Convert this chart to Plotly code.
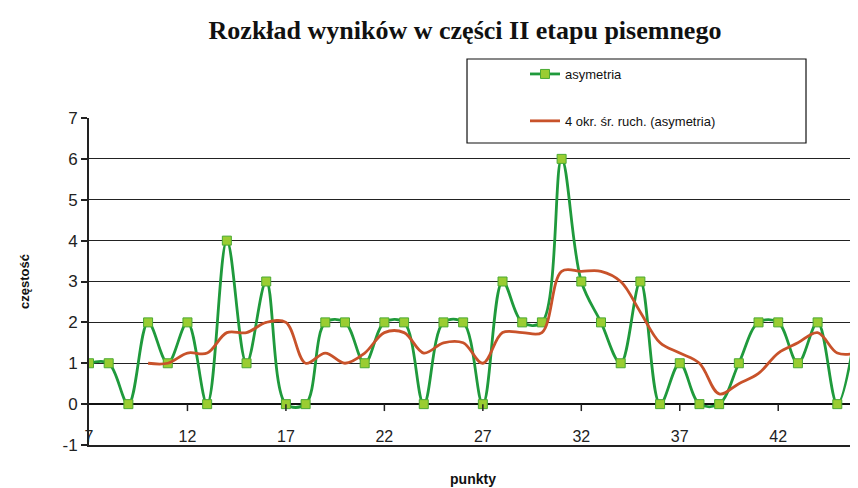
import plotly.graph_objects as go

# --- data ---
punkty = [7, 8, 9, 10, 11, 12, 13, 14, 15, 16, 17, 18, 19, 20, 21, 22, 23, 24, 25, 26,
          27, 28, 29, 30, 31, 32, 33, 34, 35, 36, 37, 38, 39, 40, 41, 42, 43, 44, 45, 46]
asymetria = [1, 1, 0, 2, 1, 2, 0, 4, 1, 3, 0, 0, 2, 2, 1, 2, 2, 0, 2, 2,
             0, 3, 2, 2, 6, 3, 2, 1, 3, 0, 1, 0, 0, 1, 2, 2, 1, 2, 0, 2]
punkty_sr = [10, 11, 12, 13, 14, 15, 16, 17, 18, 19, 20, 21, 22, 23, 24, 25, 26, 27, 28,
             29, 30, 31, 32, 33, 34, 35, 36, 37, 38, 39, 40, 41, 42, 43, 44, 45, 46]
srednia_ruchoma = [1.0, 1.0, 1.25, 1.25, 1.75, 1.75, 2.0, 2.0, 1.0, 1.25, 1.0, 1.25, 1.75,
                   1.75, 1.25, 1.5, 1.5, 1.0, 1.75, 1.75, 1.75, 3.25, 3.25, 3.25, 3.0,
                   2.25, 1.5, 1.25, 1.0, 0.25, 0.5, 0.75, 1.25, 1.5, 1.75, 1.25, 1.25]
x_ticks = [7, 12, 17, 22, 27, 32, 37, 42]
x_tick_labels = ["7", "12", "17", "22", "27", "32", "37", "42"]
y_ticks = [-1, 0, 1, 2, 3, 4, 5, 6, 7]
y_tick_labels = ["-1", "0", "1", "2", "3", "4", "5", "6", "7"]

GREEN = "#1f9a3c"
MARKER = "#9acd32"
RED = "#c8522a"
LABEL_Y = -0.83   # category labels sit just above the bottom line

W, H = 858, 488
fig = go.Figure()
fig.add_trace(go.Scatter(
    x=punkty, y=asymetria, name="asymetria", mode="lines+markers",
    line=dict(color=GREEN, width=2.8, shape="spline", smoothing=1.0),
    marker=dict(symbol="square", size=9, color=MARKER, line=dict(color="#4aaa33", width=1)),
    legendgroup="a",
))
fig.add_trace(go.Scatter(
    x=punkty_sr, y=srednia_ruchoma, name="4 okr. śr. ruch. (asymetria)", mode="lines",
    line=dict(color=RED, width=2.8, shape="spline", smoothing=1.0),
    legendgroup="b",
))
# category-axis labels
fig.add_trace(go.Scatter(
    x=x_ticks, y=[LABEL_Y] * len(x_ticks), text=x_tick_labels, mode="text",
    textposition="middle center", cliponaxis=False, showlegend=False, hoverinfo="skip",
    textfont=dict(family="Liberation Sans", size=16, color="#222"),
))

# legend frame
fig.add_shape(type="rect", xref="paper", yref="paper",
              x0=0.4922, x1=0.9336, y0=0.9235, y1=1.1804,
              line=dict(color="#111", width=1.2), fillcolor="white", layer="above")

# small tick marks on the zero axis
for t in x_ticks[1:]:
    fig.add_shape(type="line", xref="x", yref="y", x0=t, x1=t, y0=0, y1=-0.17,
                  line=dict(color="#222", width=1.5))

fig.update_layout(
    width=W, height=H,
    margin=dict(l=81, r=9, t=110, b=51, autoexpand=False),
    paper_bgcolor="white", plot_bgcolor="white",
    title=dict(text="<b>Rozkład wyników w części II etapu pisemnego</b>",
               x=457 / W, xanchor="center", y=1 - 22 / H, yanchor="middle",
               xref="container", yref="container",
               font=dict(family="Liberation Serif", size=26, color="#111")),
    showlegend=True,
    legend=dict(xref="container", yref="container",
                x=517 / W, xanchor="left", y=1 - 51 / H, yanchor="top",
                bgcolor="rgba(0,0,0,0)", borderwidth=0,
                tracegroupgap=27,
                font=dict(family="Liberation Sans", size=13, color="#111")),
    font=dict(family="Liberation Sans", color="#222"),
)

fig.update_xaxes(
    range=[7, 46], tickmode="array", tickvals=x_ticks,
    showticklabels=False, ticks="",
    showgrid=False, zeroline=False,
    showline=True, linecolor="#222", linewidth=1.5,
    title=dict(text="<b>punkty</b>", font=dict(size=14, color="#111"), standoff=28),
)
fig.update_yaxes(
    range=[-1, 7], tickmode="array", tickvals=y_ticks, ticktext=y_tick_labels,
    ticks="outside", ticklen=6, tickcolor="#222", tickwidth=1.5,
    tickfont=dict(size=17, color="#222"),
    showgrid=True, gridcolor="#222", gridwidth=1.3,
    zeroline=True, zerolinecolor="#111", zerolinewidth=1.6,
    showline=True, linecolor="#222", linewidth=2,
    title=dict(text="<b>częstość</b>", font=dict(size=13, color="#111"), standoff=30),
)

fig.write_html("out.html")
